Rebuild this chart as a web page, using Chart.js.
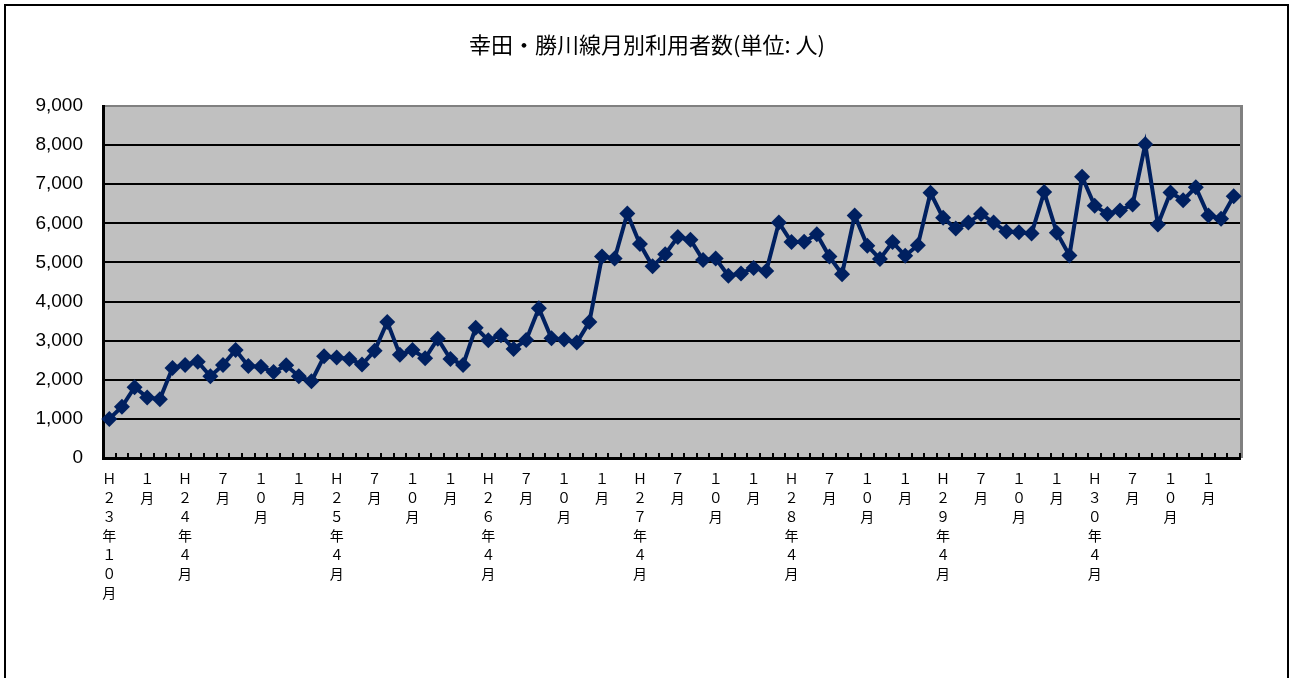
<!DOCTYPE html>
<html><head><meta charset="utf-8">
<script src="https://cdn.jsdelivr.net/npm/chart.js@4.4.1/dist/chart.umd.min.js"></script>
<style>
html,body{margin:0;padding:0;background:#fff;overflow:hidden}
#wrap{position:absolute;left:0;top:0;width:1290px;height:678px}
#frame{position:absolute;left:4px;top:4px;width:1285px;height:720px;border:2px solid #000;box-sizing:border-box;pointer-events:none}
canvas{position:absolute;left:0;top:0}
</style></head><body>
<div id="wrap"><canvas id="c" width="1290" height="678"></canvas><div id="frame"></div></div>
<script>
const titleText = '幸田・勝川線月別利用者数(単位: 人)';

const categories = [
 'Ｈ２３年１０月','１１月','１２月','１月','２月','３月',
 'Ｈ２４年４月','５月','６月','７月','８月','９月','１０月','１１月','１２月','１月','２月','３月',
 'Ｈ２５年４月','５月','６月','７月','８月','９月','１０月','１１月','１２月','１月','２月','３月',
 'Ｈ２６年４月','５月','６月','７月','８月','９月','１０月','１１月','１２月','１月','２月','３月',
 'Ｈ２７年４月','５月','６月','７月','８月','９月','１０月','１１月','１２月','１月','２月','３月',
 'Ｈ２８年４月','５月','６月','７月','８月','９月','１０月','１１月','１２月','１月','２月','３月',
 'Ｈ２９年４月','５月','６月','７月','８月','９月','１０月','１１月','１２月','１月','２月','３月',
 'Ｈ３０年４月','５月','６月','７月','８月','９月','１０月','１１月','１２月','１月','２月','３月'
];

const riders = [
 1000,1310,1810,1550,1500,
 2300,2380,2460,2090,2380,2760,2350,2330,2200,2370,2090,1960,
 2600,2570,2530,2390,2740,3480,2640,2760,2550,3050,2530,2380,
 3330,3010,3140,2790,3020,3830,3060,3030,2950,3480,5150,5100,
 6250,5470,4900,5210,5650,5580,5060,5100,4660,4720,4860,4780,
 6020,5520,5530,5720,5150,4700,6200,5430,5090,5520,5170,5440,
 6780,6140,5870,6020,6240,6020,5790,5770,5740,6800,5760,5180,
 7190,6450,6240,6330,6480,8020,5970,6790,6590,6920,6200,6120,6690
];

const yTicks = [0,1000,2000,3000,4000,5000,6000,7000,8000,9000];
const labelEvery = 3;

const lineColor = '#002060';

const plotDeco = {
  id: 'plotDeco',
  beforeDraw(chart) {
    const {ctx, chartArea: a} = chart;
    ctx.save();
    ctx.fillStyle = '#C0C0C0';
    ctx.fillRect(a.left, a.top, a.right - a.left, a.bottom - a.top);
    ctx.fillStyle = '#808080';
    ctx.fillRect(a.left, a.top - 1, a.right - a.left + 3, 2);
    ctx.fillRect(a.right, a.top - 1, 3, a.bottom - a.top + 1);
    // title
    ctx.fillStyle = '#000';
    ctx.font = "22px 'Noto Sans CJK JP', sans-serif";
    ctx.textAlign = 'center';
    ctx.textBaseline = 'middle';
    ctx.fillText(titleText, chart.width / 2 + 2, 45);
    ctx.restore();
  },
  beforeDatasetsDraw(chart) {
    const {ctx, chartArea: a} = chart;
    const xs = chart.scales.x;
    const n = categories.length;
    const step = (xs.right - xs.left) / n;
    ctx.save();
    ctx.strokeStyle = '#000';
    ctx.lineWidth = 2;
    ctx.beginPath();
    for (let i = 1; i <= n; i++) {
      const x = Math.round(xs.left + i * step);
      ctx.moveTo(x, a.bottom);
      ctx.lineTo(x, a.bottom - 5);
    }
    ctx.stroke();
    ctx.restore();
  }
};

new Chart(document.getElementById('c'), {
  type: 'line',
  data: {
    labels: categories,
    datasets: [{
      data: riders,
      borderColor: lineColor,
      backgroundColor: lineColor,
      borderWidth: 4,
      pointStyle: 'rectRot',
      pointRadius: 8,
      pointBackgroundColor: lineColor,
      pointBorderColor: lineColor,
      pointBorderWidth: 0,
      tension: 0,
      clip: false
    }]
  },
  options: {
    responsive: false,
    devicePixelRatio: 1,
    animation: false,
    layout: { padding: { left: 0, right: 50, top: 106, bottom: 0 } },
    plugins: {
      legend: { display: false },
      tooltip: { enabled: false },
      title: { display: false }
    },
    scales: {
      x: {
        type: 'category',
        offset: true,
        grid: { display: false },
        border: { display: true, color: '#000', width: 3 },
        ticks: {
          autoSkip: false,
          maxRotation: 0,
          minRotation: 0,
          padding: 3,
          color: '#000',
          font: { family: "'Noto Sans CJK JP', sans-serif", size: 14, lineHeight: '19px' },
          callback: function(v, i) {
            return i % labelEvery === 0 ? Array.from(categories[i]) : '';
          }
        },
        afterFit(scale) { scale.height = 220; }
      },
      y: {
        min: yTicks[0],
        max: yTicks[yTicks.length - 1],
        afterBuildTicks(scale) { scale.ticks = yTicks.map(v => ({ value: v })); },
        grid: {
          drawTicks: false,
          lineWidth: 2,
          color: (c) => c.tick && c.tick.value === 9000 ? 'rgba(0,0,0,0)' : '#000'
        },
        border: { display: true, color: '#000', width: 3 },
        ticks: {
          padding: 20,
          color: '#000',
          font: { family: "'Liberation Sans', Arial, sans-serif", size: 19 },
          callback: (v) => Number(v).toLocaleString('en-US')
        },
        afterFit(scale) { scale.width = 103; }
      }
    }
  },
  plugins: [plotDeco]
});
</script>
</body></html>
